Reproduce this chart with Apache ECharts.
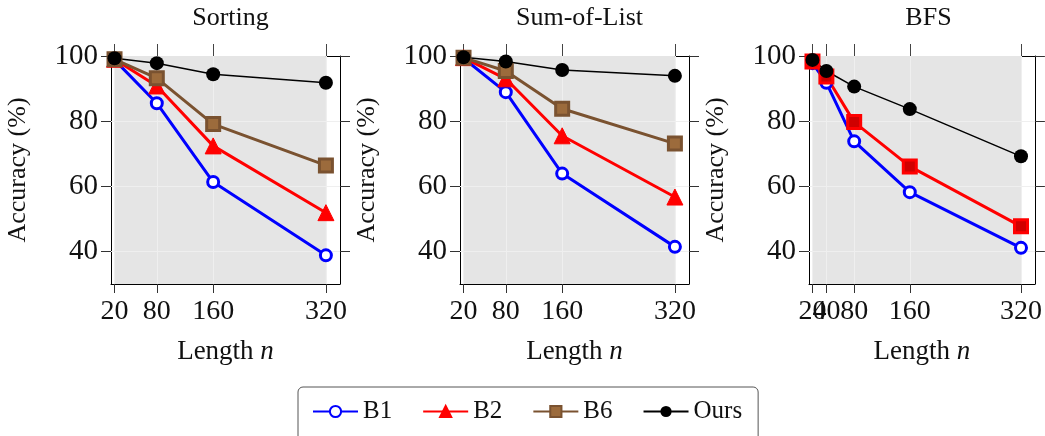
<!DOCTYPE html>
<html>
<head>
<meta charset="utf-8">
<script src="https://cdn.jsdelivr.net/npm/echarts@6/dist/echarts.min.js"></script>
<style>
html,body{margin:0;padding:0;background:#fff;}
#chart{width:1045px;height:436px;}
</style>
</head>
<body>
<div id="chart"></div>
<script>
// ---- data ----
const panelTitles = ['Sorting', 'Sum-of-List', 'BFS'];
const xSort = [20, 80, 160, 320];
const xSum = [20, 80, 160, 320];
const xBfs = [20, 40, 80, 160, 320];
const yTicks = [40, 60, 80, 100];

const sortB1 = [98.8, 85.5, 61.3, 38.8];
const sortB2 = [99.0, 90.8, 72.4, 51.9];
const sortB6 = [99.0, 93.2, 79.1, 66.4];
const sortOurs = [99.3, 97.8, 94.4, 91.8];

const sumB1 = [99.3, 88.9, 63.9, 41.4];
const sumB2 = [99.5, 93.0, 75.5, 56.7];
const sumB6 = [99.5, 95.4, 83.8, 73.1];
const sumOurs = [99.6, 98.3, 95.7, 93.9];

const bfsB1 = [97.8, 91.8, 73.8, 58.2, 41.1];
const bfsB2 = [98.3, 93.7, 79.7, 66.1, 47.7];
const bfsOurs = [98.8, 95.4, 90.6, 83.7, 69.2];

// ---- styling ----
const FONT = '"Liberation Serif", "DejaVu Serif", serif';
const TXT = '#111';
const gridLefts = [111, 460, 809];
const GRID_W = 229, GRID_TOP = 56, GRID_H = 228;
const XMIN = 15, XMAX = 340, YMIN = 30, YMAX = 100;
const NX = 3; // x axes per grid

const pair = (xs, ys) => xs.map((x, i) => [x, ys[i]]);

const styles = {
  B1: { color: '#0000ff', symbol: 'circle', symbolSize: 11, lw: 3,
        itemStyle: { color: '#ffffff', borderColor: '#0000ff', borderWidth: 3 } },
  B2: { color: '#ff0000', symbol: 'triangle', symbolSize: 16, lw: 3,
        itemStyle: { color: '#ff0000', borderColor: '#ff0000', borderWidth: 1 } },
  B2sq: { color: '#ff0000', symbol: 'rect', symbolSize: 13, lw: 3,
        itemStyle: { color: '#d00000', borderColor: '#ff0000', borderWidth: 3 } },
  B6: { color: '#7a5230', symbol: 'rect', symbolSize: 13, lw: 3,
        itemStyle: { color: '#9c6b3c', borderColor: '#7a5230', borderWidth: 3 } },
  Ours: { color: '#000000', symbol: 'circle', symbolSize: 14, lw: 1.5,
        itemStyle: { color: '#000000', borderColor: '#000000', borderWidth: 0 } }
};

function mkSeries(name, styleKey, gi, xs, ys) {
  const s = styles[styleKey];
  return {
    name: name, type: 'line', xAxisIndex: gi * NX, yAxisIndex: gi * 2,
    data: pair(xs, ys), symbol: s.symbol, symbolSize: s.symbolSize,
    showAllSymbol: true, animation: false, z: 3,
    lineStyle: { color: s.color, width: s.lw },
    itemStyle: s.itemStyle,
    emphasis: { disabled: true }
  };
}

const grids = [], xAxes = [], yAxes = [], series = [], titles = [];
const panelX = [xSort, xSum, xBfs];
const labelFont = { fontFamily: FONT, fontSize: 28, color: TXT };

for (let gi = 0; gi < 3; gi++) {
  const xs = panelX[gi];
  const mainLabels = xs.filter((v, i) => i !== 1);
  const extraLabels = [xs[1]];
  grids.push({ left: gridLefts[gi], top: GRID_TOP, width: GRID_W, height: GRID_H });
  titles.push({ text: panelTitles[gi], left: gridLefts[gi] + GRID_W / 2, top: 0, textAlign: 'center',
    textStyle: { fontFamily: FONT, fontSize: 26, fontWeight: 'normal', color: TXT } });
  // main bottom axis
  xAxes.push({
    type: 'value', gridIndex: gi, min: XMIN, max: XMAX, position: 'bottom',
    axisLine: { show: true, onZero: false, lineStyle: { color: '#000', width: 1 } },
    axisTick: { show: true, inside: false, length: 9, customValues: xs, lineStyle: { color: '#333' } },
    axisLabel: Object.assign({ customValues: mainLabels, margin: 14 }, labelFont),
    splitLine: { show: true, lineStyle: { color: '#dcdcdc', width: 1 } },
    name: 'Length {i|n}', nameLocation: 'middle', nameGap: 54,
    nameTextStyle: { fontFamily: FONT, fontSize: 27, color: TXT,
      rich: { i: { fontFamily: FONT, fontSize: 27, fontStyle: 'italic', color: TXT } } }
  });
  // top mirror axis (ticks only)
  xAxes.push({
    type: 'value', gridIndex: gi, min: XMIN, max: XMAX, position: 'top',
    axisLine: { show: true, onZero: false, lineStyle: { color: '#000', width: 1 } },
    axisTick: { show: true, inside: false, length: 12, customValues: xs, lineStyle: { color: '#444' } },
    axisLabel: { show: false }, splitLine: { show: false }
  });
  // extra bottom label layer so crowded labels are all drawn (as in the source)
  xAxes.push({
    type: 'value', gridIndex: gi, min: XMIN, max: XMAX, position: 'bottom',
    axisLine: { show: false }, axisTick: { show: false }, splitLine: { show: false },
    axisLabel: Object.assign({ customValues: extraLabels, margin: 14 }, labelFont)
  });
  yAxes.push({
    type: 'value', gridIndex: gi, min: YMIN, max: YMAX, position: 'left',
    axisLine: { show: true, onZero: false, lineStyle: { color: '#000', width: 1 } },
    axisTick: { show: true, inside: false, length: 10, customValues: yTicks, lineStyle: { color: '#333' } },
    axisLabel: { customValues: yTicks, fontFamily: FONT, fontSize: 29, color: TXT, margin: 13 },
    splitLine: { show: true, lineStyle: { color: '#dcdcdc', width: 1 } },
    name: 'Accuracy (%)', nameLocation: 'middle', nameGap: 80, nameRotate: 90,
    nameTextStyle: { fontFamily: FONT, fontSize: 26, color: TXT }
  });
  yAxes.push({
    type: 'value', gridIndex: gi, min: YMIN, max: YMAX, position: 'right',
    axisLine: { show: true, onZero: false, lineStyle: { color: '#000', width: 1 } },
    axisTick: { show: true, inside: false, length: 10, customValues: yTicks, lineStyle: { color: '#333' } },
    axisLabel: { show: false }, splitLine: { show: false }
  });
  // grey background band spanning the sampled lengths, with faint grid lines over it
  series.push({
    name: 'band' + gi, type: 'line', xAxisIndex: gi * NX, yAxisIndex: gi * 2, data: [],
    silent: true, animation: false, z: 1,
    markArea: { silent: true, z: 1, itemStyle: { color: '#e5e5e5' },
      data: [[{ xAxis: xs[0] }, { xAxis: xs[xs.length - 1] }]] },
    markLine: { silent: true, z: 2, symbol: 'none', label: { show: false },
      lineStyle: { color: '#efefef', width: 1, type: 'solid' },
      data: yTicks.slice(0, -1).map(v => ({ yAxis: v })).concat(xs.map(v => ({ xAxis: v }))) }
  });
}

series.push(mkSeries('B1', 'B1', 0, xSort, sortB1));
series.push(mkSeries('B2', 'B2', 0, xSort, sortB2));
series.push(mkSeries('B6', 'B6', 0, xSort, sortB6));
series.push(mkSeries('Ours', 'Ours', 0, xSort, sortOurs));

series.push(mkSeries('B1', 'B1', 1, xSum, sumB1));
series.push(mkSeries('B2', 'B2', 1, xSum, sumB2));
series.push(mkSeries('B6', 'B6', 1, xSum, sumB6));
series.push(mkSeries('Ours', 'Ours', 1, xSum, sumOurs));

series.push(mkSeries('B1', 'B1', 2, xBfs, bfsB1));
series.push(mkSeries('B2', 'B2sq', 2, xBfs, bfsB2));
series.push(mkSeries('Ours', 'Ours', 2, xBfs, bfsOurs));

const chart = echarts.init(document.getElementById('chart'), null, { renderer: 'canvas' });
chart.setOption({
  backgroundColor: '#ffffff',
  animation: false,
  title: titles,
  grid: grids,
  xAxis: xAxes,
  yAxis: yAxes,
  legend: {
    data: ['B1', 'B2', 'B6', 'Ours'], left: 298, top: 387, orient: 'horizontal',
    itemWidth: 45, itemHeight: 14, itemGap: 30, padding: [12, 16, 20, 14],
    borderColor: '#555', borderWidth: 1, borderRadius: 5,
    textStyle: { fontFamily: FONT, fontSize: 25, color: TXT }
  },
  series: series
});
</script>
</body>
</html>
